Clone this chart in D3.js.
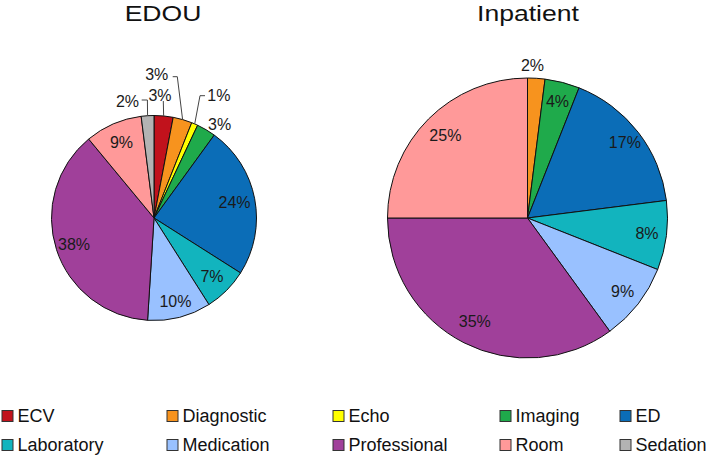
<!DOCTYPE html>
<html>
<head>
<meta charset="utf-8">
<script src="https://cdn.jsdelivr.net/npm/d3@7"></script>
<style>
  html, body { margin: 0; padding: 0; background: #fff; }
  svg { display: block; font-family: "Liberation Sans", Arial, sans-serif; }
</style>
</head>
<body>
<svg id="chart" width="709" height="456"></svg>
<script>
// ---- Data ----
const categories = ["ECV", "Diagnostic", "Echo", "Imaging", "ED", "Laboratory", "Medication", "Professional", "Room", "Sedation"];
const edouValues = [3, 3, 1, 3, 24, 7, 10, 38, 9, 2];
const inpatientValues = [0, 2, 0, 4, 17, 8, 9, 35, 25, 0];
const chartTitles = ["EDOU", "Inpatient"];
const colors = ["#C1121C", "#F7931E", "#FFFF00", "#1FAA4B", "#0B6DB7", "#12B4BE", "#99C1FF", "#A0409A", "#FF9999", "#B3B3B3"];

// ---- Layout ----
const svg = d3.select("#chart");
const color = d3.scaleOrdinal().domain(categories).range(colors);

const pies = [
  { title: chartTitles[0], values: edouValues, cx: 154, cy: 218, r: 102.5, labelR: 0.8, titleX: 163,
    labelRAdj: { Professional: 0.82, Medication: 0.84 },
    outside: {
      Sedation:   { pts: [[-6.6, -118], [-12.3, -118]], text: [-15, -117], anchor: "end" },
      ECV:        { pts: [[9.3, -117]], text: [6, -122.5], anchor: "middle" },
      Diagnostic: { pts: [[23.3, -141.3], [18.7, -141.3]], text: [14.3, -144], anchor: "end" },
      Echo:       { pts: [[46, -122.3], [51, -122.3]], text: [53.3, -122.5], anchor: "start" },
      Imaging:    { pts: null, text: [54, -94], anchor: "start" }
    } },
  { title: chartTitles[1], values: inpatientValues, cx: 527.5, cy: 218, r: 140, labelR: 0.86, titleX: 528,
    labelRAdj: { Professional: 0.83, Room: 0.83, ED: 0.88 },
    outside: {
      Diagnostic: { pts: null, text: [5, -153], anchor: "middle" }
    } }
];

const pieGen = d3.pie().sort(null).value(d => d.value);

pies.forEach(p => {
  const data = categories.map((c, i) => ({ cat: c, value: p.values[i] }));
  const arcs = pieGen(data).filter(a => a.data.value > 0);
  const g = svg.append("g").attr("transform", `translate(${p.cx},${p.cy})`);
  const arc = d3.arc().innerRadius(0).outerRadius(p.r);

  g.selectAll("path.slice").data(arcs).enter().append("path")
    .attr("class", "slice")
    .attr("d", arc)
    .attr("fill", d => color(d.data.cat))
    .attr("stroke", "#111")
    .attr("stroke-width", 1)
    .attr("stroke-linejoin", "round");

  arcs.forEach(a => {
    const lbl = a.data.value + "%";
    const out = p.outside[a.data.cat];
    if (out) {
      if (out.pts) {
        const mid = (a.startAngle + a.endAngle) / 2;
        const start = [Math.sin(mid) * p.r, -Math.cos(mid) * p.r];
        g.append("polyline")
          .attr("points", [start].concat(out.pts).map(q => q.join(",")).join(" "))
          .attr("fill", "none").attr("stroke", "#444").attr("stroke-width", 1);
      }
      g.append("text")
        .attr("x", out.text[0]).attr("y", out.text[1])
        .attr("dy", "0.35em")
        .attr("text-anchor", out.anchor)
        .attr("font-size", 16).attr("fill", "#1a1a1a")
        .text(lbl);
    } else {
      const lr = p.r * (p.labelRAdj[a.data.cat] || p.labelR);
      const c = d3.arc().innerRadius(lr).outerRadius(lr).centroid(a);
      g.append("text")
        .attr("x", c[0]).attr("y", c[1])
        .attr("dy", "0.35em")
        .attr("text-anchor", "middle")
        .attr("font-size", 16).attr("fill", "#1a1a1a")
        .text(lbl);
    }
  });

  svg.append("text")
    .attr("x", p.titleX).attr("y", 20.7)
    .attr("text-anchor", "middle")
    .attr("font-size", 22.5)
    .attr("fill", "#111")
    .attr("transform", `translate(${p.titleX},0) scale(1.18,1) translate(${-p.titleX},0)`)
    .text(p.title);
});

// ---- Legend ----
const legendCols = [2, 167, 333, 500, 620];
const legendRows = [416, 445];
const legend = svg.append("g");
categories.forEach((c, i) => {
  const x = legendCols[i % 5];
  const y = legendRows[Math.floor(i / 5)];
  legend.append("rect")
    .attr("x", x).attr("y", y - 5.5)
    .attr("width", 11).attr("height", 11)
    .attr("fill", color(c))
    .attr("stroke", "#333").attr("stroke-width", 1);
  legend.append("text")
    .attr("x", x + 15.5).attr("y", y)
    .attr("dy", "0.36em")
    .attr("font-size", 18)
    .attr("fill", "#111")
    .text(c);
});
</script>
</body>
</html>
